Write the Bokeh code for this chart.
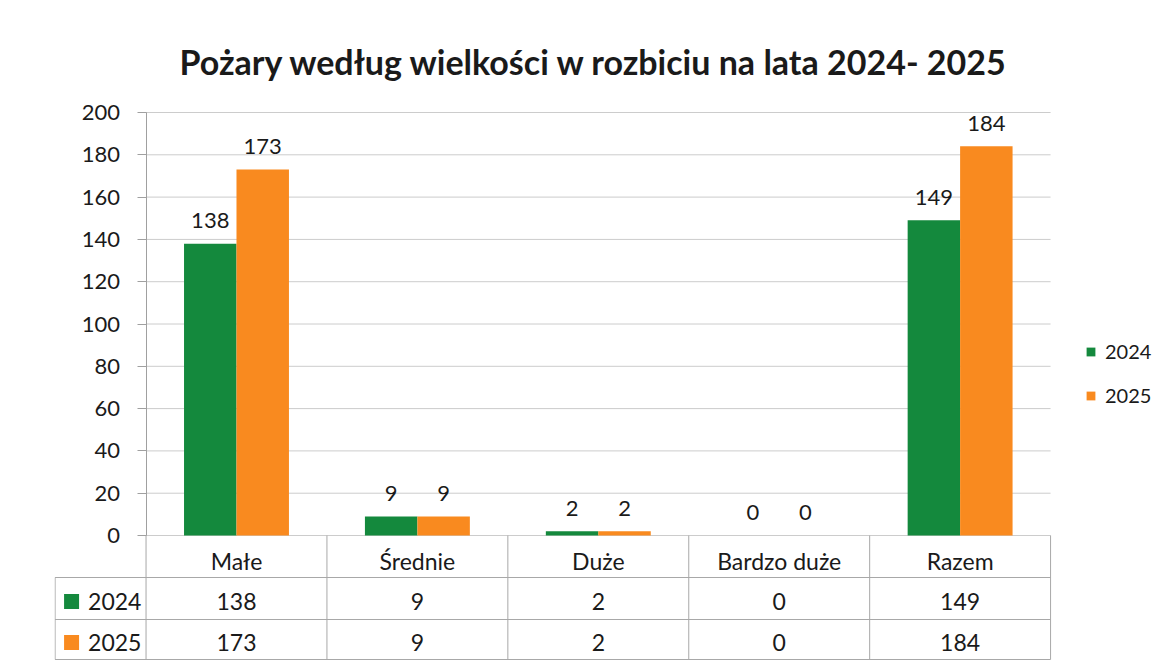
from bokeh.plotting import figure
from bokeh.models import ColumnDataSource, Range1d, FixedTicker, Legend, LegendItem
from bokeh.transform import dodge
from bokeh.core.properties import value
from bokeh.embed import file_html
from bokeh.resources import INLINE

# ---------------- data ----------------
categories = ["Małe", "Średnie", "Duże", "Bardzo duże", "Razem"]
years = ["2024", "2025"]
values_2024 = [138, 9, 2, 0, 149]
values_2025 = [173, 9, 2, 0, 184]
y_ticks = [0, 20, 40, 60, 80, 100, 120, 140, 160, 180, 200]
title_text = "Pożary według wielkości w rozbiciu na lata 2024- 2025"

# ---------------- style ----------------
GREEN = "#14893d"
ORANGE = "#f98a1f"
FONT = "Lato"
TXT = "#1a1a1a"
GRID = "#cccccc"
AXIS = "#a0a0a0"
TABLE_LINE = "#a8a8a8"

n = len(categories)
centers = [i + 0.5 for i in range(n)]          # category centres on the x scale
src = ColumnDataSource(dict(cat=categories, xc=centers,
                            v2024=values_2024, v2025=values_2025,
                            l2024=[str(v) for v in values_2024],
                            l2025=[str(v) for v in values_2025]))

# table geometry, in the units of the value axis (below zero)
LEFT_CELL = -0.5028
ROW_HEAD = -19.86
ROW_1 = -39.72
ROW_2 = -58.63

p = figure(width=1160, height=662, output_backend="svg", toolbar_location=None,
           x_range=Range1d(-0.506, 5.6077), y_range=Range1d(-59.1, 209.46),
           x_axis_location=None, y_axis_location="left",
           min_border_left=54, min_border_right=0, min_border_top=92,
           min_border_bottom=2)
p.outline_line_color = None
p.xgrid.visible = False
p.ygrid.visible = False

p.title.text = title_text
p.title.align = "left"
p.title.offset = 125
p.title.text_font = FONT
p.title.text_font_size = "34px"
p.title.text_font_style = "bold"
p.title.text_color = TXT
p.title.standoff = 22

yax = p.yaxis[0]
yax.fixed_location = 0
yax.ticker = FixedTicker(ticks=y_ticks)
yax.bounds = (0, 200)
yax.axis_line_color = AXIS
yax.major_tick_line_color = AXIS
yax.major_tick_out = 9
yax.major_tick_in = 0
yax.minor_tick_line_color = None
yax.major_label_text_font = FONT
yax.major_label_text_font_size = "22px"
yax.major_label_text_color = TXT
yax.major_label_standoff = 17

# horizontal grid lines of the value axis
p.segment(x0=[0] * len(y_ticks), y0=y_ticks, x1=[n] * len(y_ticks), y1=y_ticks,
          line_color=GRID, line_width=1)

bw = 0.29
r24 = p.vbar(x=dodge("xc", -bw / 2), top="v2024", bottom=0, width=bw, source=src,
             fill_color=GREEN, line_color=None)
r25 = p.vbar(x=dodge("xc", bw / 2), top="v2025", bottom=0, width=bw, source=src,
             fill_color=ORANGE, line_color=None)

# data labels
for off, col, lab in ((-bw / 2, "v2024", "l2024"), (bw / 2, "v2025", "l2025")):
    p.text(x=dodge("xc", off), y=col, text=lab, source=src,
           text_align="center", text_baseline="alphabetic", y_offset=-23,
           text_font=value(FONT), text_font_size="22px", text_color=TXT)

# ---------------- data table ----------------
bx = list(range(n + 1))
p.segment(x0=bx, y0=[0] * len(bx), x1=bx, y1=[ROW_2] * len(bx),
          line_color=TABLE_LINE, line_width=1)
p.segment(x0=[LEFT_CELL], y0=[ROW_HEAD], x1=[LEFT_CELL], y1=[ROW_2],
          line_color=TABLE_LINE, line_width=1)
p.segment(x0=[LEFT_CELL] * 3, y0=[ROW_HEAD, ROW_1, ROW_2], x1=[n] * 3,
          y1=[ROW_HEAD, ROW_1, ROW_2], line_color=TABLE_LINE, line_width=1)

head_y = -11.82
row1_y = -31.2
row2_y = -50.6
p.text(x="xc", y=head_y, text="cat", source=src, text_align="center",
       text_baseline="middle", text_font=value(FONT), text_font_size="23px",
       text_color=TXT)
p.text(x="xc", y=row1_y, text="l2024", source=src, text_align="center",
       text_baseline="middle", text_font=value(FONT), text_font_size="23px",
       text_color=TXT)
p.text(x="xc", y=row2_y, text="l2025", source=src, text_align="center",
       text_baseline="middle", text_font=value(FONT), text_font_size="23px",
       text_color=TXT)

# legend keys of the data table
p.scatter(x=[-0.4116, -0.4116], y=[row1_y, row2_y], marker="square", size=15,
          fill_color=[GREEN, ORANGE], line_color=None)
p.text(x=[-0.3204, -0.3204], y=[row1_y, row2_y], text=years, text_align="left",
       text_baseline="middle", text_font=value(FONT), text_font_size="23px",
       text_color=TXT)

# ---------------- legend ----------------
legend = Legend(items=[LegendItem(label=years[0], renderers=[r24]),
                       LegendItem(label=years[1], renderers=[r25])],
                location=(1031, 253), orientation="vertical",
                glyph_width=11, glyph_height=11, label_height=20, spacing=20,
                label_text_font=FONT, label_text_font_size="20px",
                label_text_color=TXT, border_line_color=None,
                background_fill_alpha=0, padding=10, margin=0, label_standoff=9)
p.add_layout(legend, "center")

open("out.html", "w").write(file_html(p, INLINE))
